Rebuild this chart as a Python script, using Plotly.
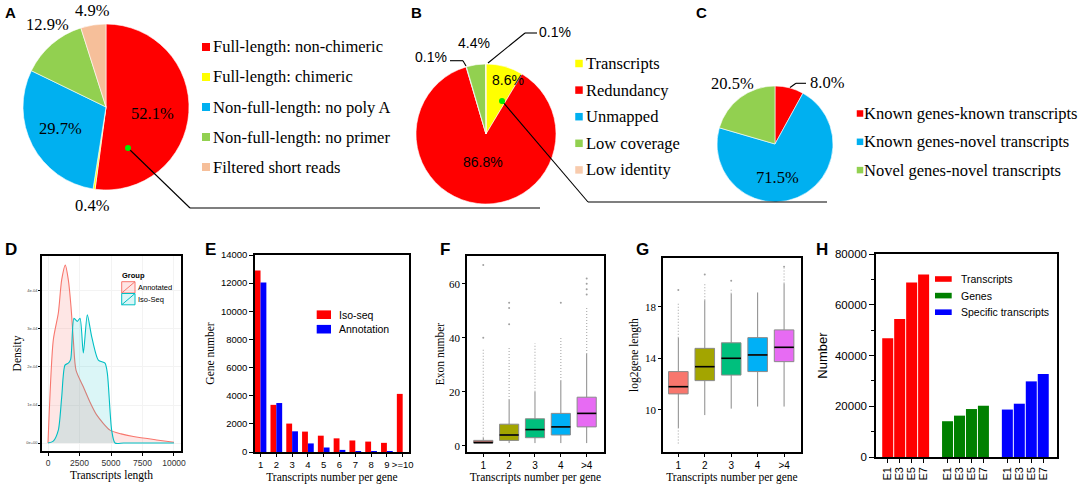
import plotly.graph_objects as go

W, H = 1084, 484
SERIF = "Liberation Serif"
SANS = "Liberation Sans"


def fx(x):
    return x / W


def fy(y):
    return 1 - y / H


# ---------------- data ----------------
a_labels = ["Full-length: non-chimeric", "Full-length: chimeric", "Non-full-length: no poly A",
            "Non-full-length: no primer", "Filtered short reads"]
a_values = [52.1, 0.4, 29.7, 12.9, 4.9]
a_colors = ["#FF0000", "#FFFF00", "#00B0F0", "#92D050", "#F6BF9A"]

b_labels = ["Transcripts", "Redundancy", "Unmapped", "Low coverage", "Low identity"]
b_values = [8.6, 86.8, 0.1, 4.4, 0.1]
b_colors = ["#FFFF00", "#FF0000", "#00B0F0", "#92D050", "#F8CBAD"]

c_labels = ["Known genes-known transcripts", "Known genes-novel transcripts", "Novel genes-novel transcripts"]
c_values = [8.0, 71.5, 20.5]
c_colors = ["#FF0000", "#00B0F0", "#92D050"]

d_groups = ["Annotated", "Iso-Seq"]
d_colors = ["#F8766D", "#00BFC4"]
d_fills = ["rgba(248,118,109,0.18)", "rgba(0,191,196,0.14)"]
d_len_ann = [0, 420, 820, 1085, 1375, 1614, 1825, 2011, 2222, 2804, 3300, 3862, 4920, 5800, 6772, 8624, 10000]
d_den_ann = [0, 2.71, 3.42, 4.29, 4.68, 4.29, 3.59, 2.71, 1.92, 1.48, 1.10, 0.74, 0.34, 0.24, 0.17, 0.08, 0.02]
d_len_iso = [0, 420, 820, 1085, 1349, 1614, 1800, 2063, 2328, 2540, 2804, 3122, 3466, 3995, 4524, 4709,
             5053, 5317, 6000, 10000]
d_den_iso = [0, 0.05, 0.34, 1.20, 2.05, 2.10, 2.20, 3.28, 3.20, 3.28, 2.37, 3.37, 2.80, 2.18, 2.10, 1.84,
             0.34, 0.0, 0.0, 0.0]
d_xticks = [0, 2500, 5000, 7500, 10000]
d_yticks = [0, 1, 2, 3, 4]
d_yticktext = ["0e+00", "1e-04", "2e-04", "3e-04", "4e-04"]

e_cats = ["1", "2", "3", "4", "5", "6", "7", "8", "9", ">=10"]
e_names = ["Iso-seq", "Annotation"]
e_colors = ["#FF0000", "#0000FF"]
e_iso = [12900, 3350, 2020, 1450, 1160, 970, 820, 740, 650, 4130]
e_ann = [12050, 3480, 1470, 610, 320, 150, 60, 15, 5, 0]

box_cats = ["1", "2", "3", "4", ">4"]
box_colors = ["#F8766D", "#A3A500", "#00BF7D", "#00B0F6", "#E76BF3"]

f_low = [1, 1, 1, 1, 1]
f_q1 = [1, 2, 3, 4, 7]
f_med = [1.2, 4, 6, 7, 12]
f_q3 = [2, 8, 10, 12, 18]
f_up = [3, 17, 20, 24, 34]
f_out_top = [36, 37, 38, 40, 51]
f_out_bottom = [1, 1, 1, 1, 1]
f_out_extra = [[40, 67], [45, 51, 53], [], [53], [56, 58, 60, 62]]

g_low = [8.6, 9.6, 10.1, 10.26, 10.26]
g_q1 = [11.24, 12.27, 12.7, 12.97, 13.74]
g_med = [11.8, 13.35, 14.0, 14.26, 14.85]
g_q3 = [12.97, 14.77, 15.2, 15.6, 16.2]
g_up = [15.6, 18.5, 19.0, 19.1, 19.8]
g_out_top = [18.3, 19.9, 19.4, 19.1, 21.0]
g_out_bottom = [7.4, 9.6, 10.1, 10.26, 10.26]
g_out_extra = [[19.3], [20.5], [20.0], [], [21.1]]

h_stages = ["E1", "E3", "E5", "E7"]
h_series = ["Transcripts", "Genes", "Specific transcripts"]
h_colors = ["#FF0000", "#008000", "#0000FF"]
h_transcripts = [46800, 54400, 68800, 71900]
h_genes = [14100, 16300, 18900, 20200]
h_specific = [18700, 21000, 29800, 32700]

# ---------------- figure ----------------
fig = go.Figure()


def note(x, y, text, family, size, xanchor="center", bold=False, color="black"):
    fig.add_annotation(x=fx(x), y=fy(y), xref="paper", yref="paper", text=f"<b>{text}</b>" if bold else text,
                       showarrow=False, borderpad=0, xanchor=xanchor, yanchor="middle",
                       font=dict(family=family, size=size, color=color))


# Pies
pie_specs = [
    (a_labels, a_values, a_colors, (106, 107, 83)),
    (b_labels, b_values, b_colors, (486, 134, 70)),
    (c_labels, c_values, c_colors, (775, 144, 58)),
]
for labels, values, colors, (cx, cy, r) in pie_specs:
    fig.add_trace(go.Pie(
        labels=labels, values=values, sort=False, direction="clockwise", rotation=0,
        textinfo="none", showlegend=False, automargin=False,
        marker=dict(colors=colors, line=dict(color="white", width=0.6)),
        domain=dict(x=[fx(cx - r), fx(cx + r)], y=[fy(cy + r), fy(cy - r)]),
    ))

# pie percentage labels
a_text_pos = [(152, 113), (92, 205), (60, 128), (47, 25), (92, 10)]
b_text_pos = [(508, 80), (483, 162), (431, 57), (474, 43), (555, 32)]
c_text_pos = [(827, 82), (777, 177), (732, 83)]
for vals, poss, fam, size in [(a_values, a_text_pos, SERIF, 16.5), (b_values, b_text_pos, SANS, 14),
                              (c_values, c_text_pos, SERIF, 16.5)]:
    for v, (x, y) in zip(vals, poss):
        note(x, y, f"{v:.1f}%", fam, size)


# pie legends (manual)
def pie_legend(labels, colors, x_sq, x_txt, y0, dy, sq, size):
    for i, (lab, col) in enumerate(zip(labels, colors)):
        y = y0 + dy * i
        fig.add_shape(type="rect", xref="paper", yref="paper", x0=fx(x_sq - sq / 2), x1=fx(x_sq + sq / 2),
                      y0=fy(y + sq / 2), y1=fy(y - sq / 2), fillcolor=col, line=dict(width=0))
        note(x_txt, y, lab, SERIF, size, xanchor="left")


pie_legend(a_labels, a_colors, 206, 212, 47, 30, 8, 16.5)
pie_legend(b_labels, b_colors, 579, 585, 63.5, 26.6, 7.5, 16.5)
pie_legend(c_labels, c_colors, 860, 863, 113.5, 28.3, 6.5, 16.5)

# connector lines and dots
line_style = dict(color="black", width=1.1)
for (x0, y0, x1, y1) in [(128, 148, 190, 208), (190, 208, 540, 208), (502, 101, 588, 202), (588, 202, 827, 202),
                         (450, 60.7, 463, 60.7), (463, 60.7, 466, 66), (537, 33, 525, 33), (525, 33, 488, 63),
                         (790, 87.5, 796, 83.3), (796, 83.3, 806, 83.3)]:
    fig.add_shape(type="line", xref="paper", yref="paper", x0=fx(x0), y0=fy(y0), x1=fx(x1), y1=fy(y1),
                  line=line_style)
for (cx, cy) in [(128, 148), (502, 101)]:
    fig.add_shape(type="circle", xref="paper", yref="paper", x0=fx(cx - 3), x1=fx(cx + 3), y0=fy(cy + 3),
                  y1=fy(cy - 3), fillcolor="#00EE00", line=dict(width=0))

# ---------------- D: density ----------------
for name, xs, ys, col, fc in [(d_groups[0], d_len_ann, d_den_ann, d_colors[0], d_fills[0]),
                              (d_groups[1], d_len_iso, d_den_iso, d_colors[1], d_fills[1])]:
    fig.add_trace(go.Scatter(x=xs, y=ys, name=name, mode="lines",
                             line=dict(color=col, width=1.1, shape="spline", smoothing=0.7),
                             fill="tozeroy", fillcolor=fc, xaxis="x", yaxis="y", showlegend=False))

# D legend
note(121, 275, "Group", SANS, 7.5, xanchor="left", bold=True)
for i, (name, col, fc) in enumerate(zip(d_groups, d_colors, d_fills)):
    y_top = 281.7 + 11.8 * i
    fig.add_shape(type="rect", xref="paper", yref="paper", x0=fx(121.7), x1=fx(135), y0=fy(y_top + 11.3),
                  y1=fy(y_top), fillcolor=fc, line=dict(color=col, width=1))
    fig.add_shape(type="line", xref="paper", yref="paper", x0=fx(121.7), x1=fx(135), y0=fy(y_top + 11.3),
                  y1=fy(y_top), line=dict(color=col, width=1))
    note(136.5, y_top + 5.7, name, SANS, 7.5, xanchor="left")

# ---------------- E: bars ----------------
for name, vals, col in zip(e_names, [e_iso, e_ann], e_colors):
    fig.add_trace(go.Bar(x=e_cats, y=vals, name=name, marker=dict(color=col, line=dict(width=0)),
                         xaxis="x2", yaxis="y2", showlegend=False))
for i, (name, col) in enumerate(zip(e_names, e_colors)):
    yc = 314.7 + 14.5 * i
    fig.add_shape(type="rect", xref="paper", yref="paper", x0=fx(316.7), x1=fx(331), y0=fy(yc + 4.3),
                  y1=fy(yc - 4.3), fillcolor=col, line=dict(width=0))
    note(337.5, yc, name, SANS, 10.5, xanchor="left")


# ---------------- F, G: boxes ----------------
def boxes(xa, ya, low, q1, med, q3, up, out_top, out_bottom, extra):
    w = 0.74
    for i, cat in enumerate(box_cats):
        fig.add_trace(go.Box(x=[i], q1=[q1[i]], median=[med[i]], q3=[q3[i]], lowerfence=[low[i]],
                             upperfence=[up[i]], width=w, whiskerwidth=0, fillcolor=box_colors[i],
                             line=dict(color="#8a8a8a", width=1), name=cat, boxpoints=False,
                             xaxis=xa, yaxis=ya, showlegend=False))
    mx, my = [], []
    for i in range(len(box_cats)):
        mx += [i - w / 2, i + w / 2, None]
        my += [med[i], med[i], None]
    fig.add_trace(go.Scatter(x=mx, y=my, mode="lines", line=dict(color="black", width=1.6), xaxis=xa, yaxis=ya,
                             showlegend=False, hoverinfo="skip"))
    ox, oy = [], []
    for i in range(len(box_cats)):
        if out_top[i] > up[i]:
            ox += [i, i, None]
            oy += [up[i], out_top[i], None]
        if out_bottom[i] < low[i]:
            ox += [i, i, None]
            oy += [out_bottom[i], low[i], None]
    fig.add_trace(go.Scatter(x=ox, y=oy, mode="lines", line=dict(color="#b0b0b0", width=1.2, dash="1px,2px"),
                             xaxis=xa, yaxis=ya, showlegend=False, hoverinfo="skip"))
    px_, py_ = [], []
    for i in range(len(box_cats)):
        for v in extra[i]:
            px_.append(i)
            py_.append(v)
    fig.add_trace(go.Scatter(x=px_, y=py_, mode="markers", marker=dict(color="#a0a0a0", size=2),
                             xaxis=xa, yaxis=ya, showlegend=False, hoverinfo="skip"))


boxes("x3", "y3", f_low, f_q1, f_med, f_q3, f_up, f_out_top, f_out_bottom, f_out_extra)
boxes("x4", "y4", g_low, g_q1, g_med, g_q3, g_up, g_out_top, g_out_bottom, g_out_extra)

# ---------------- H: bars ----------------
h_pos = [[g * 5 + s for s in range(len(h_stages))] for g in range(len(h_series))]
for g, (name, vals, col) in enumerate(zip(h_series, [h_transcripts, h_genes, h_specific], h_colors)):
    fig.add_trace(go.Bar(x=h_pos[g], y=vals, name=name, width=0.92, offset=-0.46,
                         marker=dict(color=col, line=dict(width=0)), xaxis="x5", yaxis="y5", showlegend=False))
for i, (name, col) in enumerate(zip(h_series, h_colors)):
    yc = 279 + 16.6 * i
    fig.add_shape(type="rect", xref="paper", yref="paper", x0=fx(935), x1=fx(951.7), y0=fy(yc + 2.8),
                  y1=fy(yc - 2.8), fillcolor=col, line=dict(width=0))
    note(959.5, yc, name, SANS, 10.5, xanchor="left")

# panel letters
for letter, x, y, s in [("A", 10, 13, 15), ("B", 416, 12.5, 15), ("C", 701, 12.5, 15), ("D", 11.3, 249, 17),
                        ("E", 210, 249, 17), ("F", 445, 249, 17), ("G", 642.5, 250, 17), ("H", 821.5, 250, 17)]:
    note(x, y, letter, SANS, s, bold=True)

# ---------------- axes ----------------
frame = dict(showline=True, mirror=True, linecolor="black", linewidth=1.5, zeroline=False, showgrid=False,
             ticks="outside", ticklen=3, tickcolor="black", tickwidth=1, automargin=False)

fig.update_layout(
    width=W, height=H, margin=dict(l=0, r=0, t=0, b=0, autoexpand=False), paper_bgcolor="white",
    plot_bgcolor="white",
    template="none", barmode="group", bargap=0.26, bargroupgap=0, boxmode="overlay",
    font=dict(family=SANS, color="black"), showlegend=False,
    xaxis=dict(frame, domain=[fx(42), fx(181)], range=[-476, 10556], tickvals=d_xticks, anchor="y",
               tickformat="d", showgrid=True, gridcolor="#f3f3f3",
               tickfont=dict(family=SANS, size=8.5, color="#333"),
               title=dict(text="Transcripts length", font=dict(family=SERIF, size=11.5), standoff=4)),
    yaxis=dict(frame, domain=[fy(451), fy(256)], range=[-0.21, 4.92], tickvals=d_yticks, ticktext=d_yticktext,
               anchor="x", showgrid=True, gridcolor="#f3f3f3", ticklen=2,
               tickfont=dict(family=SANS, size=4, color="#444"),
               title=dict(text="Density", font=dict(family=SERIF, size=11.5), standoff=2)),
    xaxis2=dict(frame, domain=[fx(255), fx(409)], range=[-0.35, 9.4], anchor="y2", type="category",
                tickangle=0, tickfont=dict(family=SANS, size=9.5),
                title=dict(text="Transcripts number per gene", font=dict(family=SERIF, size=11.5), standoff=6)),
    yaxis2=dict(frame, domain=[fy(452), fy(255)], range=[0, 14000], dtick=2000, anchor="x2", ticklen=4,
                tickformat="d", tickfont=dict(family=SANS, size=9.5),
                title=dict(text="Gene number", font=dict(family=SERIF, size=11.5), standoff=4)),
    xaxis3=dict(frame, domain=[fx(467), fx(604)], range=[-0.63, 4.67], anchor="y3", tickangle=0,
                tickvals=list(range(len(box_cats))), ticktext=box_cats, tickfont=dict(family=SANS, size=10),
                title=dict(text="Transcripts number per gene", font=dict(family=SERIF, size=11.5), standoff=6)),
    yaxis3=dict(frame, domain=[fy(452), fy(256)], range=[-2.3, 70.3], tickvals=[0, 20, 40, 60], anchor="x3",
                tickfont=dict(family=SERIF, size=11),
                title=dict(text="Exon number", font=dict(family=SERIF, size=11.5), standoff=2)),
    xaxis4=dict(frame, domain=[fx(663), fx(801)], range=[-0.58, 4.64], anchor="y4", tickangle=0,
                tickvals=list(range(len(box_cats))), ticktext=box_cats, tickfont=dict(family=SANS, size=10),
                title=dict(text="Transcripts number per gene", font=dict(family=SERIF, size=11.5), standoff=6)),
    yaxis4=dict(frame, domain=[fy(452), fy(258)], range=[6.74, 21.77], tickvals=[10, 14, 18], anchor="x4",
                tickfont=dict(family=SERIF, size=11),
                title=dict(text="log2gene length", font=dict(family=SERIF, size=11.5), standoff=4)),
    xaxis5=dict(frame, domain=[fx(876), fx(1057)], range=[-0.98, 14.15], anchor="y5",
                tickvals=[p for grp in h_pos for p in grp], ticktext=h_stages * len(h_series), tickangle=-90,
                ticklen=4, tickfont=dict(family=SANS, size=11)),
    yaxis5=dict(frame, domain=[fy(457), fy(254)], range=[0, 80000], dtick=20000, anchor="x5", ticklen=5,
                tickformat="d", minor=dict(ticks="outside", ticklen=3, dtick=10000, tickcolor="black"),
                tickfont=dict(family=SANS, size=11.5),
                title=dict(text="Number", font=dict(family=SANS, size=13), standoff=4)),
)

fig.write_html("out.html", config={"displayModeBar": False},
               post_script="document.body.style.margin='0';")
